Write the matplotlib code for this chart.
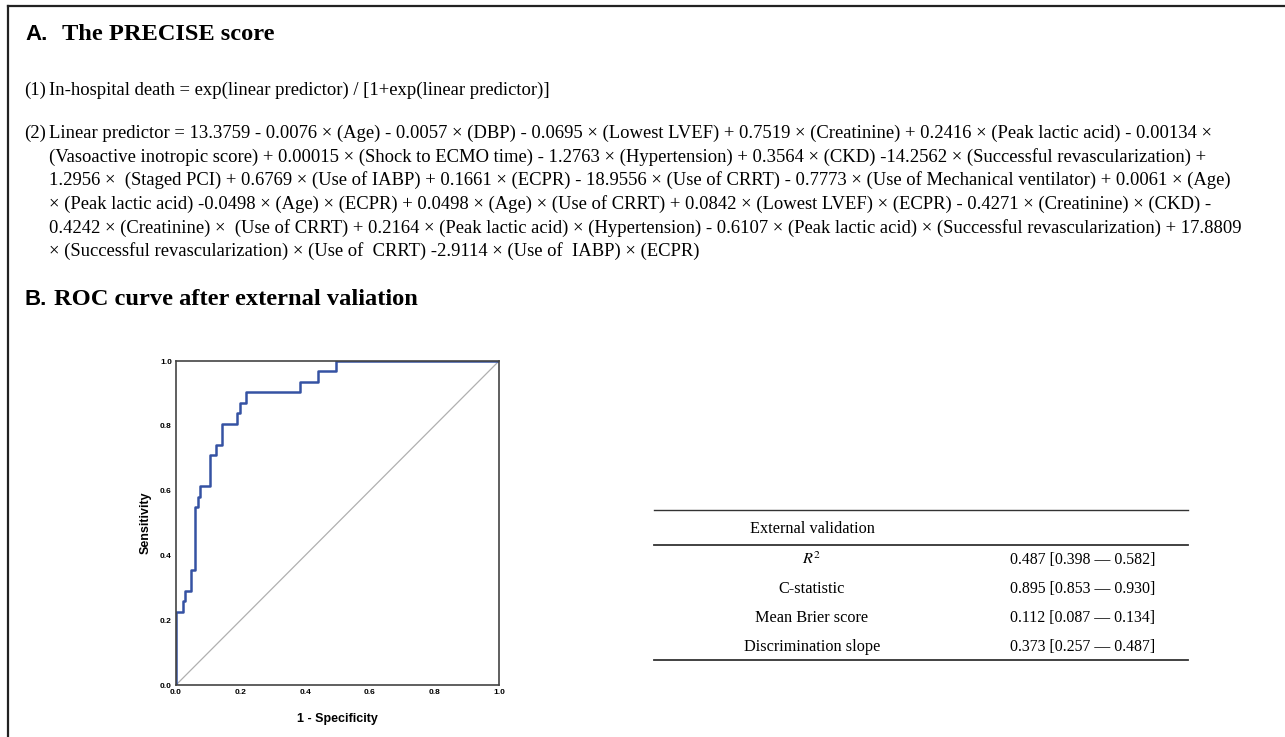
import matplotlib
matplotlib.use("Agg")
import matplotlib.pyplot as plt
from matplotlib.lines import Line2D

plt.rcParams['mathtext.fontset'] = 'stix'

W, H = 1285, 737

# ROC curve (step points)
fpr = [0.0, 0.0, 0.021, 0.021, 0.029, 0.029, 0.047, 0.047, 0.058, 0.058, 0.067, 0.067,
       0.075, 0.075, 0.104, 0.104, 0.124, 0.124, 0.142, 0.142, 0.188, 0.188, 0.197, 0.197,
       0.216, 0.216, 0.384, 0.384, 0.441, 0.441, 0.496, 0.496, 1.0]
tpr = [0.0, 0.226, 0.226, 0.258, 0.258, 0.290, 0.290, 0.355, 0.355, 0.548, 0.548, 0.581,
       0.581, 0.613, 0.613, 0.710, 0.710, 0.742, 0.742, 0.806, 0.806, 0.839, 0.839, 0.871,
       0.871, 0.903, 0.903, 0.935, 0.935, 0.968, 0.968, 1.0, 1.0]
ticks = [0.0, 0.2, 0.4, 0.6, 0.8, 1.0]

# table
table_header = "External validation"
metric_names = [r"$R^2$", "C-statistic", "Mean Brier score", "Discrimination slope"]
metric_values = ["0.487 [0.398 \u2014 0.582]", "0.895 [0.853 \u2014 0.930]",
                 "0.112 [0.087 \u2014 0.134]", "0.373 [0.257 \u2014 0.487]"]

eq1 = "In-hospital death = exp(linear predictor) / [1+exp(linear predictor)]"
eq2_lines = [
    "Linear predictor = 13.3759 - 0.0076 \u00d7 (Age) - 0.0057 \u00d7 (DBP) - 0.0695 \u00d7 (Lowest LVEF) + 0.7519 \u00d7 (Creatinine) + 0.2416 \u00d7 (Peak lactic acid) - 0.00134 \u00d7",
    "(Vasoactive inotropic score) + 0.00015 \u00d7 (Shock to ECMO time) - 1.2763 \u00d7 (Hypertension) + 0.3564 \u00d7 (CKD) -14.2562 \u00d7 (Successful revascularization) +",
    "1.2956 \u00d7  (Staged PCI) + 0.6769 \u00d7 (Use of IABP) + 0.1661 \u00d7 (ECPR) - 18.9556 \u00d7 (Use of CRRT) - 0.7773 \u00d7 (Use of Mechanical ventilator) + 0.0061 \u00d7 (Age)",
    "\u00d7 (Peak lactic acid) -0.0498 \u00d7 (Age) \u00d7 (ECPR) + 0.0498 \u00d7 (Age) \u00d7 (Use of CRRT) + 0.0842 \u00d7 (Lowest LVEF) \u00d7 (ECPR) - 0.4271 \u00d7 (Creatinine) \u00d7 (CKD) -",
    "0.4242 \u00d7 (Creatinine) \u00d7  (Use of CRRT) + 0.2164 \u00d7 (Peak lactic acid) \u00d7 (Hypertension) - 0.6107 \u00d7 (Peak lactic acid) \u00d7 (Successful revascularization) + 17.8809",
    "\u00d7 (Successful revascularization) \u00d7 (Use of  CRRT) -2.9114 \u00d7 (Use of  IABP) \u00d7 (ECPR)",
]


def fx(px):
    return px / W


def fy(py):
    return 1 - py / H


fig = plt.figure(figsize=(W / 100, H / 100), dpi=100)

serif = "Liberation Serif"
sans = "Liberation Sans"
body = 13.45

# outer frame (top and left only)
fig.add_artist(Line2D([fx(8), fx(8)], [fy(6), 0], color="#222222", lw=1.6))
fig.add_artist(Line2D([fx(8), 1], [fy(6), fy(6)], color="#222222", lw=1.6))

# section A
fig.text(fx(25), fy(34), "A.", family=sans, weight="bold", size=16, va="center")
fig.text(fx(62), fy(34), "The PRECISE score", family=serif, weight="bold", size=17.6, va="center")
fig.text(fx(24), fy(90), "(1)", family=serif, size=body, va="center")
fig.text(fx(49), fy(90), eq1, family=serif, size=body, va="center")
fig.text(fx(24), fy(133), "(2)", family=serif, size=body, va="center")
line_y = [133, 157, 180, 204, 228, 251]
for yy, line in zip(line_y, eq2_lines):
    fig.text(fx(49), fy(yy), line, family=serif, size=body, va="center")

# section B
fig.text(fx(25), fy(299), "B.", family=sans, weight="bold", size=16, va="center")
fig.text(fx(54), fy(299), "ROC curve after external valiation", family=serif, weight="bold", size=17.6, va="center")

# ROC plot
ax = fig.add_axes([fx(176), fy(685), fx(499) - fx(176), fy(361) - fy(685)])
ax.plot([0, 1], [0, 1], color="#b0b0b0", lw=0.9)
ax.plot(fpr, tpr, color="#3552a3", lw=1.8)
ax.set_xlim(0, 1)
ax.set_ylim(0, 1)
ax.set_xticks(ticks)
ax.set_yticks(ticks)
ax.set_xticklabels([f"{t:.1f}" for t in ticks], family=sans, weight="bold", size=6)
ax.set_yticklabels([f"{t:.1f}" for t in ticks], family=sans, weight="bold", size=6)
ax.tick_params(length=0, pad=3)
for s in ax.spines.values():
    s.set_color("#444444")
    s.set_linewidth(1.2)
ax.set_xlabel("1 - Specificity", family=sans, weight="bold", size=9, labelpad=12)
ax.set_ylabel("Sensitivity", family=sans, weight="bold", size=9, labelpad=6)

# table
tx0, tx1 = 654, 1188
fig.add_artist(Line2D([fx(tx0), fx(tx1)], [fy(510), fy(510)], color="#333333", lw=1.0))
fig.add_artist(Line2D([fx(tx0), fx(tx1)], [fy(545), fy(545)], color="#333333", lw=1.3))
fig.add_artist(Line2D([fx(tx0), fx(tx1)], [fy(660), fy(660)], color="#333333", lw=1.3))
tsize = 11.7
fig.text(fx(812), fy(529), table_header, family=serif, size=tsize, ha="center", va="center")
row_y = [560, 589, 618, 647]
for yy, name, val in zip(row_y, metric_names, metric_values):
    fig.text(fx(812), fy(yy), name, family=serif, size=tsize, ha="center", va="center")
    fig.text(fx(1083), fy(yy), val, family=serif, size=11.4, ha="center", va="center")

fig.savefig("out.png", dpi=100)
